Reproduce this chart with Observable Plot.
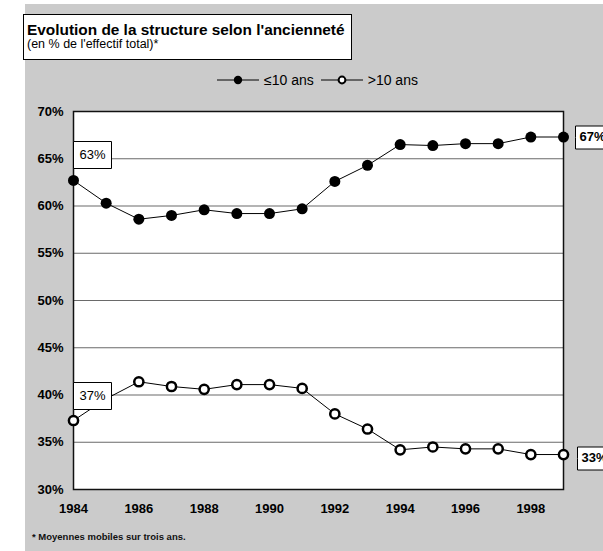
<!DOCTYPE html>
<html><head><meta charset="utf-8">
<script src="https://cdn.jsdelivr.net/npm/d3@7"></script>
<script src="https://cdn.jsdelivr.net/npm/@observablehq/plot@0.6"></script>
<style>
body{margin:0;background:#fff;font-family:"Liberation Sans",Arial,sans-serif;}
#wrap{position:relative;width:603px;height:551px;overflow:hidden;}
#bg{position:absolute;left:25px;top:4px;right:0;bottom:0;background:#cbcbcb;}
#title{position:absolute;left:23px;top:14px;width:329px;height:46px;background:#fff;border:1px solid #000;box-sizing:border-box;padding:7px 3px 0 3px;}
#title .t{font-weight:bold;font-size:15.4px;line-height:16px;color:#000;white-space:nowrap;}
#title .s{font-size:12.5px;line-height:13px;color:#000;}
#legend{position:absolute;left:216px;top:71px;height:18px;font-size:14px;color:#000;display:flex;align-items:center;}
#legend span{margin:0 6px 0 4px;}
#chart{position:absolute;left:0;top:90px;}
#foot{position:absolute;left:32px;top:531px;font-size:9.5px;font-weight:bold;color:#111;}
</style>
</head><body>
<div id="wrap">
  <div id="bg"></div>
  <div id="title"><div class="t">Evolution de la structure selon l'ancienneté</div><div class="s">(en % de l'effectif total)*</div></div>
  <div id="legend"></div>
  <div id="chart"></div>
  <div id="foot">* Moyennes mobiles sur trois ans.</div>
</div>
<script>
const years = [1984,1985,1986,1987,1988,1989,1990,1991,1992,1993,1994,1995,1996,1997,1998,1999];
const shortTenure = [62.7,60.3,58.6,59.0,59.6,59.2,59.2,59.7,62.6,64.3,66.5,66.4,66.6,66.6,67.3,67.3];
const longTenure  = [37.3,39.6,41.4,40.9,40.6,41.1,41.1,40.7,38.0,36.4,34.2,34.5,34.3,34.3,33.7,33.7];
const seriesNames = ["≤10 ans", ">10 ans"];
const yTicks = [30,35,40,45,50,55,60,65,70];
const xTicks = [1984,1986,1988,1990,1992,1994,1996,1998];
const startLabels = ["63%", "37%"];
const endLabels = ["67%", "33%"];

const shortData = years.map((y,i)=>({year:y, value:shortTenure[i]}));
const longData = years.map((y,i)=>({year:y, value:longTenure[i]}));
const last = years.length-1;

// legend
const leg = document.getElementById("legend");
function legItem(filled, name){
  const s = document.createElementNS("http://www.w3.org/2000/svg","svg");
  s.setAttribute("width", 44); s.setAttribute("height", 14);
  s.innerHTML = `<line x1="1" x2="43" y1="7" y2="7" stroke="#000" stroke-width="1"/>` +
    (filled ? `<circle cx="22" cy="7" r="4.2" fill="#000"/>` : `<circle cx="22" cy="7" r="3.4" fill="#fff" stroke="#000" stroke-width="2"/>`);
  leg.appendChild(s);
  const t = document.createElement("span"); t.textContent = name; leg.appendChild(t);
}
legItem(true, seriesNames[0]);
legItem(false, seriesNames[1]);

const font = "Liberation Sans, Arial, sans-serif";
const chart = Plot.plot({
  width: 603,
  height: 440,
  marginLeft: 73,
  marginRight: 40,
  marginTop: 21,
  marginBottom: 41,
  style: {background: "transparent", fontFamily: font, color: "#000"},
  x: {domain: [1984, 1999]},
  y: {domain: [30, 70]},
  marks: [
    Plot.frame({fill: "white"}),
    Plot.gridY(yTicks, {stroke: "#6a6a6a", strokeOpacity: 1, strokeWidth: 1.2}),
    Plot.axisY({ticks: yTicks, tickFormat: d => d + "%", tickSize: 0, tickPadding: 10, fontSize: 13, fontWeight: "bold", label: null}),
    Plot.axisX({ticks: xTicks, tickFormat: d => String(d), tickSize: 0, tickPadding: 14, fontSize: 13, fontWeight: "bold", label: null}),
    Plot.frame({stroke: "#111", strokeWidth: 1.5}),
    Plot.line(shortData, {x: "year", y: "value", stroke: "#000", strokeWidth: 1}),
    Plot.line(longData, {x: "year", y: "value", stroke: "#000", strokeWidth: 1}),
    Plot.dot(shortData, {x: "year", y: "value", r: 5.5, fill: "#000", stroke: "none"}),
    Plot.dot(longData, {x: "year", y: "value", r: 4.6, fill: "#fff", stroke: "#000", strokeWidth: 2.5}),
    Plot.tip([{x: years[0], y: shortTenure[0], t: startLabels[0]}], {x: "x", y: "y", title: "t", anchor: "bottom-left", pointerSize: 0, dy: -12, fill: "white", stroke: "black", pathFilter: "none", fontSize: 13, fontFamily: font, textPadding: 6}),
    Plot.tip([{x: years[0], y: longTenure[0], t: startLabels[1]}], {x: "x", y: "y", title: "t", anchor: "bottom-left", pointerSize: 0, dy: -11, fill: "white", stroke: "black", pathFilter: "none", fontSize: 13, fontFamily: font, textPadding: 6}),
    Plot.tip([{x: years[last], y: shortTenure[last], t: endLabels[0]}], {x: "x", y: "y", title: "t", anchor: "left", pointerSize: 0, dx: 12, fill: "white", stroke: "black", pathFilter: "none", fontSize: 13, fontWeight: "bold", fontFamily: font, textPadding: 4}),
    Plot.tip([{x: years[last], y: longTenure[last], t: endLabels[1]}], {x: "x", y: "y", title: "t", anchor: "left", pointerSize: 0, dx: 14, dy: 4, fill: "white", stroke: "black", pathFilter: "none", fontSize: 13, fontWeight: "bold", fontFamily: font, textPadding: 4})
  ]
});
document.getElementById("chart").appendChild(chart);
</script>
</body></html>
